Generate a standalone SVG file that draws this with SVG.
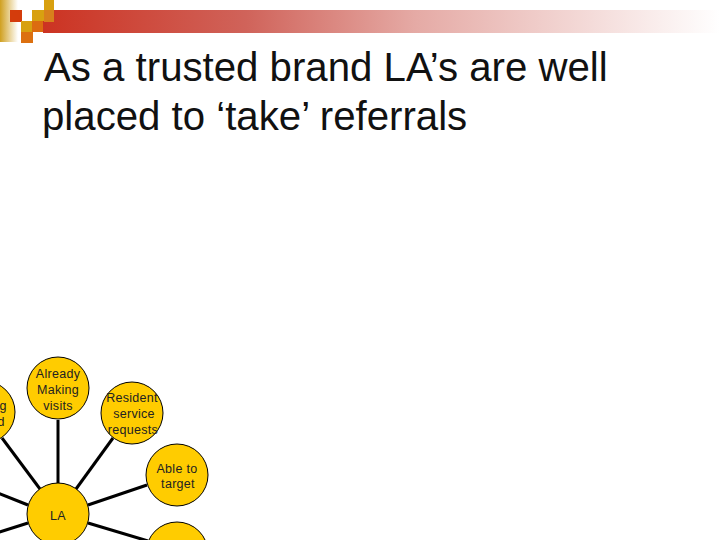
<svg xmlns="http://www.w3.org/2000/svg" width="720" height="540" viewBox="0 0 720 540">
<style>
.n{fill:#ffcc00;stroke:#000;stroke-width:1}
.c{stroke:#000;stroke-width:3;fill:none}
.l{font:12.5px "Liberation Sans",Arial,sans-serif;fill:#222;text-anchor:middle;letter-spacing:.3px}
.t{font:40.2px "Liberation Sans",Arial,sans-serif;fill:#111}
</style>
<defs>
<linearGradient id="bar"><stop offset="0" stop-color="#cc3322"/><stop offset=".3" stop-color="#d0635a"/><stop offset=".55" stop-color="#e5aaa5"/><stop offset="1" stop-color="#fff"/></linearGradient>
<linearGradient id="side"><stop offset="0" stop-color="#d0a020"/><stop offset="1" stop-color="#fff"/></linearGradient>
</defs>
<rect width="720" height="540" fill="#fff"/>
<g id="decor">
<rect x="0" y="0" width="18" height="42" fill="url(#side)"/>
<rect x="43" y="10" width="677" height="23" fill="url(#bar)"/>
<rect x="10" y="10" width="12" height="12" fill="#d43c0c"/>
<rect x="32" y="10" width="12" height="11" fill="#d8a010"/>
<rect x="44" y="0" width="10" height="10" fill="#d8a010"/>
<rect x="44" y="10" width="10" height="12" fill="#d8801c"/>
<rect x="21" y="21" width="12" height="11" fill="#d8a010"/>
<rect x="32" y="21" width="11" height="11" fill="#dc6c10"/>
<rect x="21" y="32" width="12" height="11" fill="#dc7010"/>
</g>
<g id="title">
<text class="t" x="44" y="81">As a trusted brand LA’s are well</text>
<text class="t" x="42" y="130">placed to ‘take’ referrals</text>
</g>
<g id="connectors">
<line class="c" x1="58" y1="420" x2="58" y2="484"/>
<line class="c" x1="113" y1="438" x2="76" y2="489"/>
<line class="c" x1="147" y1="485" x2="88" y2="505"/>
<line class="c" x1="148" y1="541" x2="88" y2="523"/>
<line class="c" x1="2" y1="438" x2="40" y2="489"/>
<line class="c" x1="-10" y1="490" x2="28" y2="505"/>
<line class="c" x1="-10" y1="535" x2="28" y2="523"/>
</g>
<g id="node-left"><circle class="n" cx="-16" cy="412" r="31"/><text class="l" x="3" y="410">g</text><text class="l" x="1" y="426">d</text></g>
<g id="node-already"><circle class="n" cx="58" cy="388" r="31"/><text class="l" x="58" y="378">Already</text><text class="l" x="58" y="394">Making</text><text class="l" x="58" y="410">visits</text></g>
<g id="node-resident"><circle class="n" cx="132" cy="413" r="31"/><text class="l" x="132" y="402">Resident</text><text class="l" x="134" y="418">service</text><text class="l" x="133" y="434">requests</text></g>
<g id="node-able"><circle class="n" cx="177" cy="475" r="31"/><text class="l" x="177" y="473">Able to</text><text class="l" x="178" y="488">target</text></g>
<g id="node-la"><circle class="n" cx="58" cy="514" r="31"/><text class="l" x="58" y="520">LA</text></g>
<g id="node-bottom"><circle class="n" cx="177" cy="553" r="31"/></g>
</svg>
